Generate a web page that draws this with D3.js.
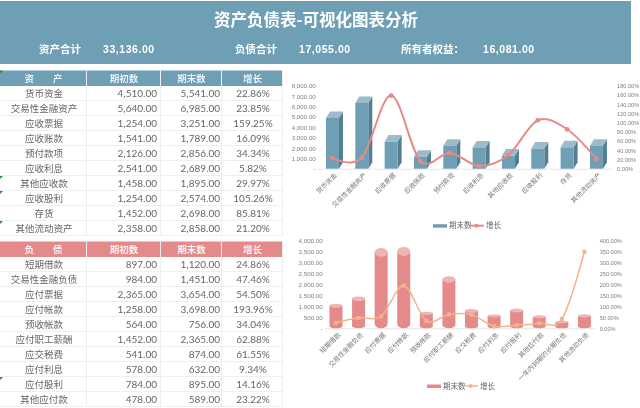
<!DOCTYPE html>
<html>
<head>
<meta charset="utf-8">
<script src="https://cdn.jsdelivr.net/npm/d3@7"></script>
<style>
html, body { margin: 0; padding: 0; background: #fff; overflow: hidden; }
svg { display: block; filter: blur(0.4px); }
text { font-family: "Noto Sans CJK SC", sans-serif; }
</style>
</head>
<body>
<script>
var assetNames = ["货币资金", "交易性金融资产", "应收票据", "应收账款", "预付款项", "应收利息", "其他应收款", "应收股利", "存货", "其他流动资产"];
var assetStart = [4510, 5640, 1254, 1541, 2126, 2541, 1458, 1254, 1452, 2358];
var assetEnd = [5541, 6985, 3251, 1789, 2856, 2689, 1895, 2574, 2698, 2858];
var assetGrowth = [22.86, 23.85, 159.25, 16.09, 34.34, 5.82, 29.97, 105.26, 85.81, 21.20];

var debtNames = ["短期借款", "交易性金融负债", "应付票据", "应付帐款", "预收帐款", "应付职工薪酬", "应交税费", "应付利息", "应付股利", "其他应付款"];
var debtStart = [897, 984, 2365, 1258, 564, 1452, 541, 578, 784, 478];
var debtEnd = [1120, 1451, 3654, 3698, 756, 2365, 874, 632, 895, 589];
var debtGrowth = [24.86, 47.46, 54.50, 193.96, 34.04, 62.88, 61.55, 9.34, 14.16, 23.22];

// the chart has two more categories than the table shows
var debtChartNames = debtNames.concat(["一年内到期的长期负债", "其他流动负债"]);
var debtChartEnd = debtEnd.concat([345, 636]);
var debtChartGrowth = debtGrowth.concat([42, 348]);

var summaryLabels = ["资产合计", "负债合计", "所有者权益："];
var summaryValues = ["33,136.00", "17,055.00", "16,081.00"];
var summaryLabelX = [39, 235, 401];
var summaryValueX = [103, 299, 483];

var blue = "#6f9fb5", red = "#e58a8a", border = "#ebf0f3";
var money = d3.format(",.2f");

var svg = d3.select("body").append("svg").attr("width", 640).attr("height", 408);

function main() {
    // banner
    svg.append("rect").attr("x", 0).attr("y", 1).attr("width", 631).attr("height", 63).attr("fill", blue);
    svg.append("text").text("资产负债表-可视化图表分析")
        .attr("x", 316).attr("y", 26)
        .attr("text-anchor", "middle").attr("font-size", 16.5).attr("font-weight", 700).attr("fill", "#fff");
    svg.selectAll(".sumlabel").data(summaryLabels).enter().append("text")
        .text(function(d) { return d; })
        .attr("x", function(d, i) { return summaryLabelX[i]; })
        .attr("y", 53).attr("font-size", 10.5).attr("font-weight", 700).attr("fill", "#fff");
    svg.selectAll(".sumvalue").data(summaryValues).enter().append("text")
        .text(function(d) { return d; })
        .attr("x", function(d, i) { return summaryValueX[i]; })
        .attr("y", 53).attr("font-size", 10.5).attr("font-weight", 700).attr("letter-spacing", 0.55)
        .attr("fill", "#fff").style("font-family", "'Liberation Sans'");

    drawTable(70.5, 15, blue, "资　　产", assetNames, assetStart, assetEnd, assetGrowth, [0, 6, 7, 9]);
    drawTable(241.5, 15, red, "负　　债", debtNames, debtStart, debtEnd, debtGrowth, [8]);

    drawChart({
        names: assetNames, values: assetEnd, growth: assetGrowth,
        xRange: [317.8, 611.1], y0: 168.7, yTop: 86, yMax: 8000, yStep: 1000, gMax: 180, gStep: 20,
        lineColor: "#e58a85", lineWidth: 2, legendX: 433, legendY: 225.7, color: blue, kind: "box"
    });
    drawChart({
        names: debtChartNames, values: debtChartEnd, growth: debtChartGrowth,
        xRange: [324.7, 595.7], y0: 328.3, yTop: 240.3, yMax: 4000, yStep: 500, gMax: 400, gStep: 50,
        lineColor: "#f2b48f", lineWidth: 1.5, legendX: 427, legendY: 386, color: red, kind: "cyl"
    });
}

function drawTable(top, rowH, color, title, names, start, end, growth, flagged) {
    var colX = [0, 87, 161, 222, 283];
    var g = svg.append("g");
    var rows = d3.scaleBand().domain(d3.range(names.length)).range([top + 15.5, top + 15.5 + names.length * rowH]);

    g.append("rect").attr("x", 0).attr("y", top).attr("width", colX[4]).attr("height", 15.5).attr("fill", color);

    var heads = [title, "期初数", "期末数", "增长"];
    g.selectAll(".head").data(heads).enter().append("text")
        .text(function(d) { return d; })
        .attr("x", function(d, i) { return (colX[i] + colX[i + 1]) / 2; })
        .attr("y", top + 11.5)
        .attr("text-anchor", "middle").attr("font-size", 9.5).attr("font-weight", 500).attr("fill", "#fff");

    // grid
    g.selectAll(".rowline").data(d3.range(names.length)).enter().append("line")
        .attr("x1", 0).attr("x2", colX[4])
        .attr("y1", function(d) { return rows(d) + rowH - 0.5; })
        .attr("y2", function(d) { return rows(d) + rowH - 0.5; })
        .attr("stroke", border);
    g.selectAll(".colline").data(colX.slice(1)).enter().append("line")
        .attr("x1", function(d) { return d - 0.5; }).attr("x2", function(d) { return d - 0.5; })
        .attr("y1", top).attr("y2", top + 15.5 + names.length * rowH)
        .attr("stroke", border);

    var row = g.selectAll(".row").data(names).enter().append("g")
        .attr("transform", function(d, i) { return "translate(0," + (rows(i) + 11) + ")"; })
        .attr("fill", "#666");
    row.append("text").text(function(d) { return d; })
        .attr("x", 44).attr("text-anchor", "middle").attr("font-size", 9.5);
    row.append("text").text(function(d, i) { return money(start[i]); })
        .attr("x", 157).attr("text-anchor", "end").attr("font-size", 10).style("font-family", "Lato");
    row.append("text").text(function(d, i) { return money(end[i]); })
        .attr("x", 220).attr("text-anchor", "end").attr("font-size", 10).style("font-family", "Lato");
    row.append("text").text(function(d, i) { return growth[i].toFixed(2) + "%"; })
        .attr("x", 253).attr("text-anchor", "middle").attr("font-size", 10).style("font-family", "Lato");

    // little green error flags in the cell corners
    g.selectAll(".flag").data(flagged).enter().append("path")
        .attr("d", function(d) {
            var y = d === 0 ? top : rows(d);
            return "M0," + y + "l3,0l-3,3z";
        })
        .attr("fill", "#2e8b3d");
}

function drawChart(c) {
    var x = d3.scaleBand().domain(c.names).range(c.xRange);
    var y = d3.scaleLinear().domain([0, c.yMax]).range([c.y0, c.yTop]);
    var g2 = d3.scaleLinear().domain([0, c.gMax]).range([c.y0, c.yTop]);
    var barW = 13;
    var g = svg.append("g");

    var left = d3.axisLeft(y).tickSize(0).tickPadding(2)
        .tickValues(d3.range(0, c.yMax + 1, c.yStep))
        .tickFormat(function(d) { return d === 0 ? "-" : money(d); });
    var right = d3.axisRight(g2).tickSize(0).tickPadding(c.kind === "box" ? 6 : 4)
        .tickValues(d3.range(0, c.gMax + 1, c.gStep))
        .tickFormat(function(d) { return d.toFixed(2) + "%"; });

    var la = g.append("g").attr("transform", "translate(" + c.xRange[0] + ",0)").call(left);
    var ra = g.append("g").attr("transform", "translate(" + c.xRange[1] + ",0)").call(right);
    la.selectAll("text").style("font-size", "6.2px");
    ra.selectAll("text").style("font-size", "5.6px");
    [la, ra].forEach(function(a) {
        a.select(".domain").remove();
        a.selectAll("text").attr("fill", "#808080").style("font-family", "'Liberation Sans'");
    });

    g.append("line").attr("x1", c.xRange[0]).attr("x2", c.xRange[1])
        .attr("y1", c.y0 + 0.5).attr("y2", c.y0 + 0.5).attr("stroke", "#e4e4e4");

    var bars = g.selectAll(".bar").data(c.values).enter().append("g");
    var cx = function(i) { return x(c.names[i]) + x.bandwidth() / 2; };

    if (c.kind === "box") {
        var dx = 4, dy = 6.5;
        // side face
        bars.append("path").attr("fill", "#527f94").attr("d", function(d, i) {
            var r = cx(i) + barW / 2;
            return "M" + r + "," + c.y0 + "l" + dx + "," + (-dy) + "L" + (r + dx) + "," + y(d) + "l" + (-dx) + "," + dy + "z";
        });
        // top face
        bars.append("path").attr("fill", "#9dbccb").attr("d", function(d, i) {
            var l = cx(i) - barW / 2;
            return "M" + l + "," + (y(d) + dy) + "l" + dx + "," + (-dy) + "h" + barW + "l" + (-dx) + "," + dy + "z";
        });
        // front face
        bars.append("rect").attr("fill", c.color)
            .attr("x", function(d, i) { return cx(i) - barW / 2; })
            .attr("y", function(d) { return y(d) + dy; })
            .attr("width", barW)
            .attr("height", function(d) { return c.y0 - y(d) - dy; });
    } else {
        // cap gets rounder on the taller cylinders
        var ry = d3.scaleLinear().domain([0, 3700]).range([1, 4.5]);
        bars.append("path").attr("fill", c.color).attr("d", function(d, i) {
            var rx = barW / 2, r = ry(d), l = cx(i) - rx, top = y(d) + r;
            return "M" + l + "," + top + "L" + l + "," + (c.y0 - r) +
                "A" + rx + "," + r + " 0 0 0 " + (l + barW) + "," + (c.y0 - r) +
                "L" + (l + barW) + "," + top + "z";
        });
        bars.append("ellipse").attr("fill", "#efb4b4")
            .attr("cx", function(d, i) { return cx(i); })
            .attr("cy", function(d) { return y(d) + ry(d); })
            .attr("rx", barW / 2)
            .attr("ry", function(d) { return ry(d); });
    }

    // smoothed growth line on the right axis
    var line = d3.line()
        .x(function(d, i) { return cx(i); })
        .y(function(d) { return g2(d); })
        .curve(d3.curveCardinal.tension(0));
    g.append("path").attr("d", line(c.growth)).attr("fill", "none")
        .attr("stroke", c.lineColor).attr("stroke-width", c.lineWidth);
    if (c.kind === "box") {
        g.selectAll(".pt").data(c.growth).enter().append("circle")
            .attr("cx", function(d, i) { return cx(i); }).attr("cy", function(d) { return g2(d); })
            .attr("r", 2.4).attr("fill", c.lineColor);
    } else {
        g.selectAll(".pt").data(c.growth).enter().append("rect")
            .attr("x", function(d, i) { return cx(i) - 2; }).attr("y", function(d) { return g2(d) - 2; })
            .attr("width", 4).attr("height", 4).attr("fill", c.lineColor);
    }

    // category labels
    g.selectAll(".cat").data(c.names).enter().append("text")
        .text(function(d) { return d; })
        .attr("text-anchor", "end").attr("font-size", 6.5).attr("fill", "#777")
        .attr("transform", function(d, i) { return "translate(" + (cx(i) + 5) + "," + (c.y0 + 7) + ") rotate(-45)"; });

    // legend
    var lg = g.append("g").attr("transform", "translate(" + c.legendX + "," + c.legendY + ")");
    lg.append("rect").attr("x", 0).attr("y", -1.5).attr("width", 14).attr("height", 3.5).attr("fill", c.color);
    lg.append("text").text("期末数").attr("x", 16).attr("y", 2.5).attr("font-size", 7.5).attr("fill", "#666");
    lg.append("line").attr("x1", 36).attr("x2", 51).attr("stroke", c.lineColor).attr("stroke-width", c.lineWidth);
    lg.append("circle").attr("cx", 43.5).attr("r", 2).attr("fill", c.lineColor);
    lg.append("text").text("增长").attr("x", 53).attr("y", 2.5).attr("font-size", 7.5).attr("fill", "#666");
}

window.onload = main;
</script>
</body>
</html>
